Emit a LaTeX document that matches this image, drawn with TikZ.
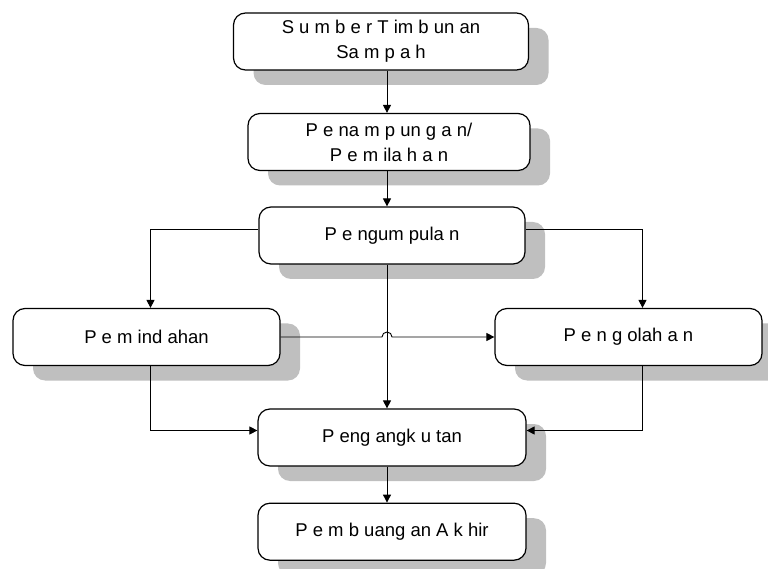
\documentclass[tikz,border=0pt]{standalone}
\usepackage{fontspec}
\setmainfont{Liberation Sans}
\usepackage{tikz}
\usetikzlibrary{positioning,shadows,arrows.meta}
\tikzset{flow box/.style={rectangle,rounded corners=12pt,draw,line width=1.2pt,fill=white,
    minimum height=57pt,align=center,font=\fontsize{18.5}{25}\selectfont,
    drop shadow={shadow xshift=20pt,shadow yshift=-15pt,fill=black!25,opacity=1}},
  flow arrow/.style={line width=0.9pt,-{Triangle[length=8pt,width=8pt]}},}

\begin{document}
\begin{tikzpicture}[x=1pt,y=1pt]
       \useasboundingbox (0,0) rectangle (768,568);
       \coordinate (mid) at (387,0);
       \node[flow box,minimum width=295pt] (1) at (381,526.5) {S u m b e r T im b un an\\Sa m p a h};
       \node[flow box,minimum width=282pt] (2) at (389,426) {P e na m p un g a n/\\P e m ila h a n};
       \node[flow box,minimum width=266pt] (3) at (392,332.5) {P e ngum pula n};
       
       \node[flow box,minimum width=267pt] (4) at (146.5,231) {P e m ind ahan};
       \node[flow box,minimum width=267pt] (5) at (628.5,231) {P e n g olah a n};
       
       \node[flow box,minimum width=268pt] (6) at (392,130.5) {P eng angk u tan};
       \node[flow box,minimum width=268pt] (7) [below = 36pt of 6] {P e m b uang an A k hir};
       
       \draw[flow arrow] (1.south -| mid) -- (2.north -| mid);
       \draw[flow arrow] (2.south -| mid) -- (3.north -| mid);
       \draw[flow arrow] ([yshift=6pt]3.west) -| ([xshift=4pt]4.north);
       \draw[flow arrow] ([yshift=6pt]3.east) -| ([xshift=14pt]5.north);
       \draw[flow arrow] (4.east) -- ([xshift=-5pt]mid |- 4.east) arc (180:0:5) -- (5.west);
       \draw[flow arrow] (3.south -| mid) -- (6.north -| mid);
       \draw[flow arrow] ([xshift=4pt]4.south) |- ([yshift=7pt]6.west);
       \draw[flow arrow] ([xshift=14pt]5.south) |- ([yshift=7pt]6.east);
       \draw[flow arrow] (6.south -| mid) -- (7.north -| mid);
    \end{tikzpicture}
\end{document}
